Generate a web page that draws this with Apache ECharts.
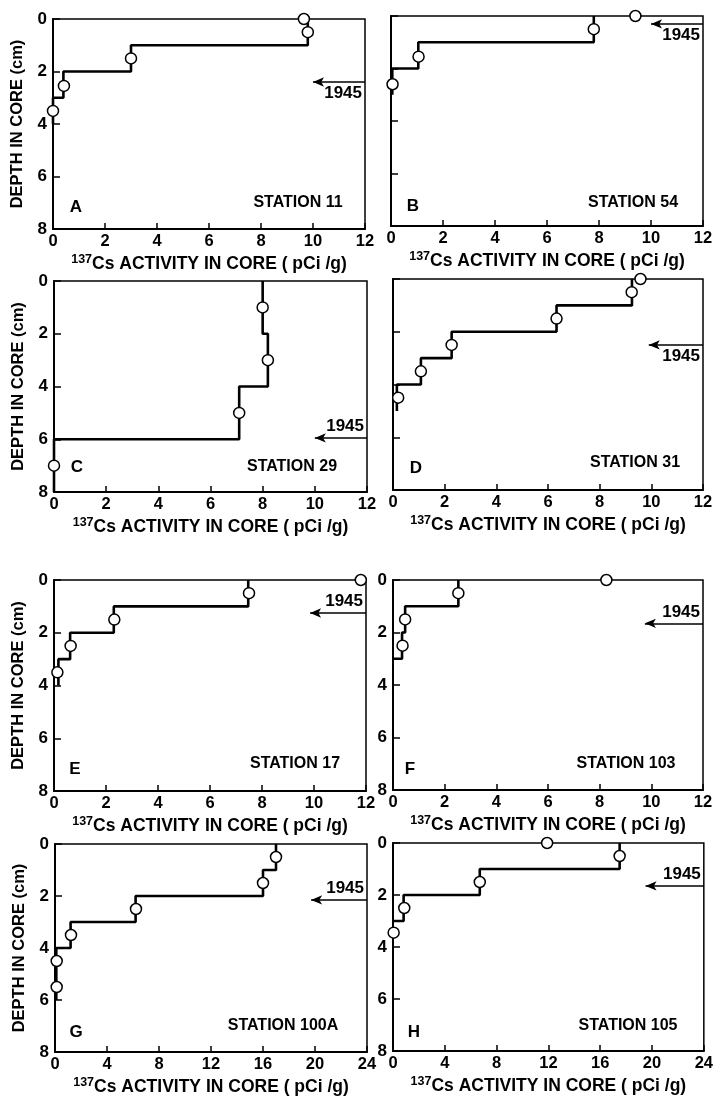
<!DOCTYPE html>
<html>
<head>
<meta charset="utf-8">
<script src="https://cdn.jsdelivr.net/npm/echarts@6/dist/echarts.min.js"></script>
<style>
  html, body { margin: 0; padding: 0; background: #fff; }
  #chart { width: 716px; height: 1099px; }
</style>
</head>
<body>
<div id="chart"></div>
<script>
// ---------- DATA ----------
// Step profiles: depth boundaries (cm) and activity value for each depth interval (pCi/g)
const stepDepthA = [0, 1, 2, 3, 4];
const stepValueA = [9.8, 3.0, 0.4, 0.0];
const stepDepthB = [0, 1, 2, 3];
const stepValueB = [7.8, 1.05, 0.05];
const stepDepthC = [0, 2, 4, 6, 8];
const stepValueC = [8.0, 8.2, 7.1, 0.0];
const stepDepthD = [0, 1, 2, 3, 4, 5];
const stepValueD = [9.25, 6.33, 2.27, 1.08, 0.15];
const stepDepthE = [0, 1, 2, 3, 4];
const stepValueE = [7.47, 2.3, 0.62, 0.17];
const stepDepthF = [0, 1, 2, 3, 3];
const stepValueF = [2.53, 0.47, 0.35, 0.0];
const stepDepthG = [0, 1, 2, 3, 4, 6];
const stepValueG = [17.0, 16.0, 6.2, 1.2, 0.1];
const stepDepthH = [0, 1, 2, 3, 3];
const stepValueH = [17.5, 6.7, 0.82, 0.0];

// Sample points (open circles)
const pointActA = [9.65, 9.8, 3.0, 0.42, 0.0];
const pointDepA = [0, 0.5, 1.5, 2.55, 3.5];
const pointActB = [9.4, 7.8, 1.06, 0.06];
const pointDepB = [0, 0.5, 1.55, 2.6];
const pointActC = [8.0, 8.2, 7.1, 0.0];
const pointDepC = [1.0, 3.0, 5.0, 7.0];
const pointActD = [9.58, 9.24, 6.33, 2.27, 1.08, 0.2];
const pointDepD = [0, 0.5, 1.5, 2.5, 3.5, 4.5];
const pointActE = [11.8, 7.5, 2.32, 0.64, 0.13];
const pointDepE = [0, 0.5, 1.5, 2.5, 3.5];
const pointActF = [8.26, 2.53, 0.47, 0.37];
const pointDepF = [0, 0.5, 1.5, 2.5];
const pointActG = [17.0, 16.0, 6.23, 1.23, 0.13, 0.13];
const pointDepG = [0.5, 1.5, 2.5, 3.5, 4.5, 5.5];
const pointActH = [11.9, 17.5, 6.7, 0.87, 0.05];
const pointDepH = [0, 0.5, 1.5, 2.5, 3.45];

// 1945 horizon arrows: depth (cm) and activity at arrow tip
const horizonDepth = [2.4, 0.3, 5.95, 2.5, 1.25, 1.65, 2.15, 1.65];
const horizonTip = [10.0, 10.0, 10.0, 9.9, 9.85, 9.75, 19.7, 19.5];
const horizonLabel = '1945';

// Panel texts and axis ranges
const panelLetters = ['A', 'B', 'C', 'D', 'E', 'F', 'G', 'H'];
const stationNames = ['STATION 11', 'STATION 54', 'STATION 29', 'STATION 31', 'STATION 17', 'STATION 103', 'STATION 100A', 'STATION 105'];
const xMaxValues = [12, 12, 12, 12, 12, 12, 24, 24];
const xIntervals = [2, 2, 2, 2, 2, 2, 4, 4];
const depthMax = 8;
const depthInterval = 2;
const xAxisTitleSup = '137';
const xAxisTitleMain = 'Cs ACTIVITY IN CORE ( pCi /g)';
const yAxisTitle = 'DEPTH IN CORE (cm)';

// ---------- LAYOUT ----------
const FONT = 'Liberation Sans';
const boxes = [
  { left: 53, top: 19, width: 312, height: 210 },
  { left: 391, top: 16, width: 312, height: 210 },
  { left: 54, top: 281, width: 313, height: 211 },
  { left: 393, top: 279, width: 310, height: 211 },
  { left: 54, top: 580, width: 312, height: 211 },
  { left: 393, top: 580, width: 310, height: 210 },
  { left: 55, top: 844, width: 312, height: 208 },
  { left: 393, top: 843, width: 311, height: 208 }
];
const letterPos = [[76, 207], [413, 206], [77, 467], [416, 468], [75, 769], [410, 769], [76, 1032], [414, 1032]];
const stationPos = [[298, 203], [633, 203], [292, 467], [635, 463], [295, 764], [626, 764], [283, 1026], [628, 1026]];
const labelBelow = [true, true, false, true, false, false, false, false];
const showYLabels = [true, false, true, false, true, true, true, true];
const showYName = [true, false, true, false, true, false, true, false];

const steps = [
  [stepDepthA, stepValueA], [stepDepthB, stepValueB], [stepDepthC, stepValueC], [stepDepthD, stepValueD],
  [stepDepthE, stepValueE], [stepDepthF, stepValueF], [stepDepthG, stepValueG], [stepDepthH, stepValueH]
];
const points = [
  [pointActA, pointDepA], [pointActB, pointDepB], [pointActC, pointDepC], [pointActD, pointDepD],
  [pointActE, pointDepE], [pointActF, pointDepF], [pointActG, pointDepG], [pointActH, pointDepH]
];

function stepLine(depths, values) {
  const out = [];
  for (let i = 0; i < values.length; i++) {
    out.push([values[i], depths[i]]);
    out.push([values[i], depths[i + 1]]);
  }
  return out;
}

const grid = [], xAxis = [], yAxis = [], series = [], graphic = [];
boxes.forEach((b, i) => {
  grid.push(Object.assign({ show: true, borderColor: '#000', borderWidth: 1.5, backgroundColor: '#fff' }, b));
  xAxis.push({
    gridIndex: i, type: 'value', min: 0, max: xMaxValues[i], interval: xIntervals[i],
    axisLine: { show: true, onZero: false, lineStyle: { color: '#000', width: 2 } },
    axisTick: { show: true, inside: true, length: 6, lineStyle: { color: '#000', width: 1.5 } },
    axisLabel: { show: true, margin: 4, color: '#000', fontSize: 16.5, fontFamily: FONT, fontWeight: 'bold' },
    splitLine: { show: false },
    name: '{sup|' + xAxisTitleSup + '}{base|' + xAxisTitleMain + '}',
    nameLocation: 'middle', nameGap: 24,
    nameTextStyle: {
      color: '#000', fontFamily: FONT, fontWeight: 'bold',
      rich: {
        sup: { fontSize: 12.5, fontFamily: FONT, fontWeight: 'bold', color: '#000', verticalAlign: 'top', lineHeight: 23 },
        base: { fontSize: 17.5, fontFamily: FONT, fontWeight: 'bold', color: '#000', lineHeight: 23 }
      }
    }
  });
  yAxis.push({
    gridIndex: i, type: 'value', inverse: true, min: 0, max: depthMax, interval: depthInterval,
    axisLine: { show: true, onZero: false, lineStyle: { color: '#000', width: 2 } },
    axisTick: { show: true, inside: true, length: 7, lineStyle: { color: '#000', width: 1.5 } },
    axisLabel: { show: showYLabels[i], margin: 6, color: '#000', fontSize: 17, fontFamily: FONT, fontWeight: 'bold' },
    splitLine: { show: false },
    name: showYName[i] ? yAxisTitle : '',
    nameLocation: 'middle', nameGap: 27, nameRotate: 90,
    nameTextStyle: { color: '#000', fontSize: 16.5, fontFamily: FONT, fontWeight: 'bold' }
  });
  series.push({
    type: 'line', xAxisIndex: i, yAxisIndex: i, z: 2,
    data: stepLine(steps[i][0], steps[i][1]),
    showSymbol: false, symbol: 'none',
    lineStyle: { color: '#000', width: 2.6 },
    silent: true,
    markLine: {
      silent: true, symbol: ['arrow', 'none'], symbolSize: [7, 11],
      lineStyle: { color: '#000', width: 1.5, type: 'solid' },
      label: {
        show: true, formatter: horizonLabel, position: labelBelow[i] ? 'insideEndBottom' : 'insideEndTop',
        distance: 3, color: '#000', fontSize: 17, fontFamily: FONT, fontWeight: 'bold'
      },
      data: [[{ coord: [horizonTip[i], horizonDepth[i]] }, { coord: [xMaxValues[i], horizonDepth[i]] }]]
    }
  });
  series.push({
    type: 'scatter', xAxisIndex: i, yAxisIndex: i, z: 3,
    data: points[i][0].map((v, k) => [v, points[i][1][k]]),
    symbol: 'circle', symbolSize: 11,
    itemStyle: { color: '#fff', borderColor: '#000', borderWidth: 1.5, opacity: 1 },
    silent: true
  });
  graphic.push({
    type: 'text', x: letterPos[i][0], y: letterPos[i][1], z: 10,
    style: { text: panelLetters[i], fill: '#000', font: 'bold 17px "' + FONT + '"', textAlign: 'center', textVerticalAlign: 'middle' }
  });
  graphic.push({
    type: 'text', x: stationPos[i][0], y: stationPos[i][1], z: 10,
    style: { text: stationNames[i], fill: '#000', font: 'bold 16px "' + FONT + '"', textAlign: 'center', textVerticalAlign: 'middle' }
  });
});

const chart = echarts.init(document.getElementById('chart'), null, { renderer: 'canvas' });
chart.setOption({
  backgroundColor: '#fff',
  animation: false,
  grid, xAxis, yAxis, series, graphic
});
</script>
</body>
</html>
